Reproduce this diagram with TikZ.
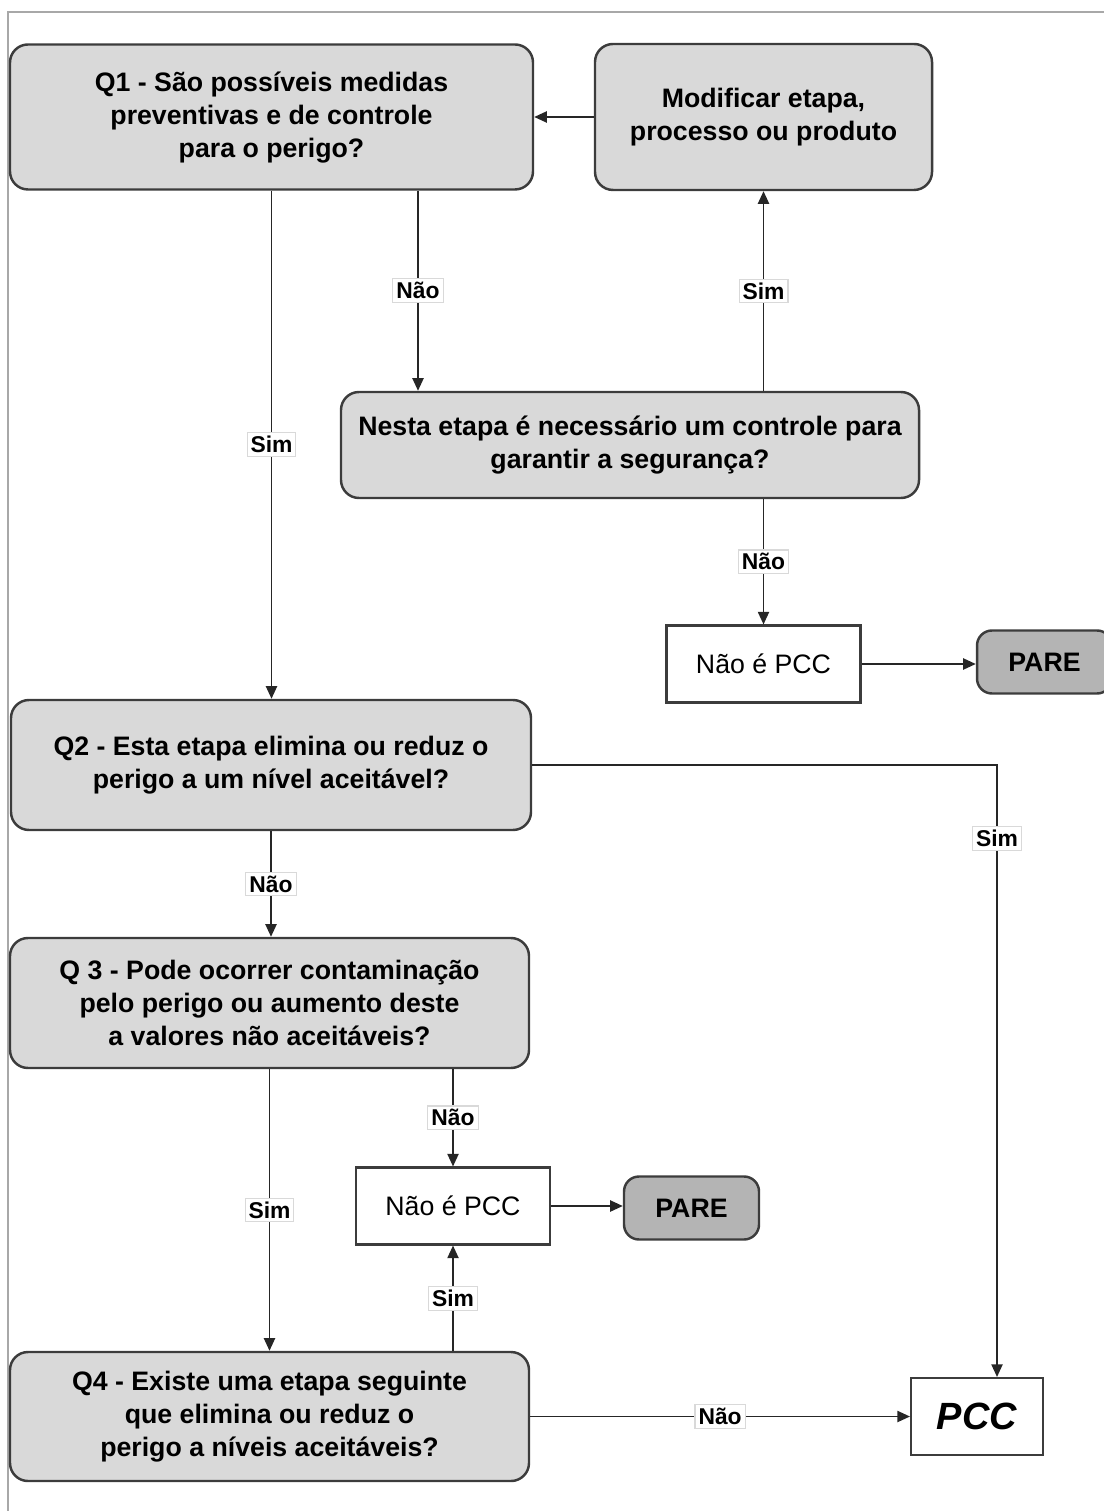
\documentclass[tikz,border=0pt]{standalone}
\usepackage{fontspec}
\setmainfont{Liberation Sans}
\usetikzlibrary{arrows.meta}

\definecolor{cinzaclaro}{HTML}{D9D9D9}
\definecolor{cinzapare}{HTML}{B4B4B4}
\definecolor{borda}{HTML}{3C3C3C}
\definecolor{moldura}{HTML}{A8A8A8}

\begin{document}
\begin{tikzpicture}[
  >={Triangle[length=3.6pt,width=3.2pt]},
  pergunta/.style={draw=borda, line width=0.7pt, rounded corners=0.18cm, fill=cinzaclaro, align=center, inner sep=0pt, font=\bfseries\fontsize{7.6}{9.4}\selectfont},
  parebox/.style={draw=borda, line width=0.7pt, rounded corners=0.15cm, fill=cinzapare, minimum width=1.35cm, minimum height=0.63cm, font=\bfseries\fontsize{7.6}{9.4}\selectfont},
  naopcc/.style={draw=borda, line width=0.6pt, fill=white, minimum width=1.94cm, minimum height=0.77cm, font=\fontsize{7.6}{9.4}\selectfont},
  rotulo/.style={fill=white, draw=black!15, line width=0.3pt, inner sep=1pt, font=\bfseries\fontsize{6.5}{7.5}\selectfont},
  seta/.style={->, line width=0.45pt, draw=black!85}
]
  \useasboundingbox (0,0) rectangle (11.04,-15.11);
  % Moldura
  \draw[moldura, line width=0.5pt] (11.04,-0.12) -- (0.08,-0.12) -- (0.08,-15.11);

  % Caixas
  \node[pergunta, minimum width=5.23cm, minimum height=1.45cm, text depth=0.05cm] (q1) at (2.715,-1.17) {Q1 - São possíveis medidas\\preventivas e de controle\\para o perigo?};
  \node[pergunta, minimum width=3.37cm, minimum height=1.46cm] (modify) at (7.635,-1.17) {Modificar etapa,\\processo ou produto};
  \node[pergunta, minimum width=5.78cm, minimum height=1.06cm] (needctrl) at (6.30,-4.45) {Nesta etapa é necessário um controle para\\garantir a segurança?};
  \node[naopcc] (notpcc1) at (7.635,-6.64) {Não é PCC};
  \node[parebox] (pare1) at (10.445,-6.62) {PARE};
  \node[pergunta, minimum width=5.20cm, minimum height=1.30cm] (q2) at (2.71,-7.65) {Q2 - Esta etapa elimina ou reduz o\\perigo a um nível aceitável?};
  \node[pergunta, minimum width=5.19cm, minimum height=1.30cm] (q3) at (2.695,-10.03) {Q 3 - Pode ocorrer contaminação\\pelo perigo ou aumento deste\\a valores não aceitáveis?};
  \node[naopcc] (notpcc2) at (4.53,-12.06) {Não é PCC};
  \node[parebox] (pare2) at (6.915,-12.08) {PARE};
  \node[pergunta, minimum width=5.19cm, minimum height=1.29cm] (q4) at (2.695,-14.165) {Q4 - Existe uma etapa seguinte\\que elimina ou reduz o\\perigo a níveis aceitáveis?};
  \node[naopcc, minimum width=1.32cm, font=\bfseries\itshape\fontsize{10.8}{12}\selectfont] (pcc) at (9.77,-14.165) {PCC};

  % Ligacoes
  \draw[seta] (modify) -- (q1);
  \draw[seta] (q1.south) -- node[rotulo]{Sim} (q1.south |- q2.north);
  \draw[seta] ([xshift=1.465cm]q1.south) -- node[rotulo]{Não} ([xshift=1.465cm]q1.south |- needctrl.north);
  \draw[seta] (modify.south |- needctrl.north) -- node[rotulo]{Sim} (modify.south);
  \draw[seta] (modify.south |- needctrl.south) -- node[rotulo]{Não} (notpcc1.north);
  \draw[seta] (notpcc1.east) -- (notpcc1.east -| pare1.west);
  \draw[seta] (q2.east) -| node[rotulo, pos=0.56]{Sim} ([xshift=0.2cm]pcc.north);
  \draw[seta] (q2.south) -- node[rotulo]{Não} (q2.south |- q3.north);
  \draw[seta] (notpcc2.north |- q3.south) -- node[rotulo]{Não} (notpcc2.north);
  \draw[seta] (q3.south) -- node[rotulo]{Sim} (q3.south |- q4.north);
  \draw[seta] (notpcc2.south |- q4.north) -- node[rotulo]{Sim} (notpcc2.south);
  \draw[seta] (notpcc2.east) -- (notpcc2.east -| pare2.west);
  \draw[seta] (q4.east) -- node[rotulo, pos=0.5]{Não} (pcc.west);
\end{tikzpicture}
\end{document}
